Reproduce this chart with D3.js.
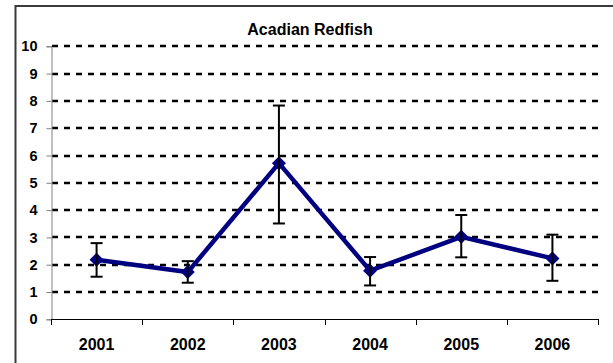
<!DOCTYPE html>
<html><head><meta charset="utf-8">
<script src="https://cdn.jsdelivr.net/npm/d3@7"></script>
<style>html,body{margin:0;padding:0;background:#fff;overflow:hidden}svg{display:block}</style>
</head><body>
<svg id="c" width="613" height="363"></svg>
<script>
const title = "Acadian Redfish";
const years = ["2001","2002","2003","2004","2005","2006"];
const means = [2.18, 1.73, 5.72, 1.78, 3.02, 2.23];
const upper = [2.79, 2.13, 7.83, 2.28, 3.82, 3.10];
const lower = [1.56, 1.34, 3.51, 1.24, 2.27, 1.41];
const yTicks = [0,1,2,3,4,5,6,7,8,9,10];

const svg = d3.select("#c");
const font = "'Liberation Sans', Arial, sans-serif";
const L = 51, R = 598, T = 46.3, B = 319.3;

// outer frame (cropped)
svg.append("rect").attr("x",15.5).attr("y",6).attr("width",700).attr("height",500)
  .attr("fill","#fff").attr("stroke","#3a3a3a").attr("stroke-width",2);

const x = d3.scaleBand().domain(years).range([L,R]).padding(0);
const y = d3.scaleLinear().domain([0,10]).range([B,T]);

// gridlines
svg.append("g").selectAll("line").data(yTicks.filter(d=>d>0)).join("line")
  .attr("x1",L+1).attr("x2",R).attr("y1",d=>Math.round(y(d))).attr("y2",d=>Math.round(y(d)))
  .attr("stroke","#000").attr("stroke-width",2.4).attr("stroke-dasharray","6,6");

// y axis
const ya = svg.append("g").attr("transform",`translate(${L+0.5},0)`)
  .call(d3.axisLeft(y).tickValues(yTicks).tickSize(5).tickPadding(9).tickFormat(d3.format("d")));
ya.selectAll("path,line").attr("stroke","#808080").attr("stroke-width",1);
ya.selectAll("text").attr("font-family",font).attr("font-weight","bold").attr("font-size","14.5px").attr("fill","#000");

// x axis
const xa = svg.append("g").attr("transform",`translate(0,${Math.round(B)})`)
  .call(d3.axisBottom(x).tickSize(0).tickPadding(20));
xa.select("path").attr("stroke","#000").attr("stroke-width",1).attr("d",`M${L},0.5H${R}`);
xa.selectAll("text").attr("font-family",font).attr("font-weight","bold").attr("font-size","16px").attr("fill","#000");
// boundary ticks
const bounds = years.map(d=>x(d)).concat([R]);
svg.append("g").selectAll("line").data(bounds).join("line")
  .attr("x1",d=>Math.round(d)+0.5).attr("x2",d=>Math.round(d)+0.5)
  .attr("y1",Math.round(B)).attr("y2",Math.round(B)+6).attr("stroke","#000").attr("stroke-width",1);

const cx = d => x(d) + x.bandwidth()/2;
const pts = years.map((d,i)=>({yr:d,m:means[i],u:upper[i],l:lower[i]}));

// line
svg.append("path").datum(pts)
  .attr("d", d3.line().x(d=>cx(d.yr)).y(d=>y(d.m)))
  .attr("fill","none").attr("stroke","#000080").attr("stroke-width",4.5).attr("stroke-linejoin","miter");

// markers
const r = 7;
svg.append("g").selectAll("path").data(pts).join("path")
  .attr("d", d=>`M${cx(d.yr)},${y(d.m)-r}L${cx(d.yr)+r},${y(d.m)}L${cx(d.yr)},${y(d.m)+r}L${cx(d.yr)-r},${y(d.m)}Z`)
  .attr("fill","#000080");

// error bars
const eb = svg.append("g").attr("stroke","#000").attr("stroke-width",2);
eb.selectAll("line.v").data(pts).join("line").attr("class","v")
  .attr("x1",d=>cx(d.yr)).attr("x2",d=>cx(d.yr)).attr("y1",d=>y(d.u)).attr("y2",d=>y(d.l));
eb.selectAll("line.u").data(pts).join("line").attr("class","u")
  .attr("x1",d=>cx(d.yr)-6).attr("x2",d=>cx(d.yr)+6).attr("y1",d=>y(d.u)).attr("y2",d=>y(d.u));
eb.selectAll("line.l").data(pts).join("line").attr("class","l")
  .attr("x1",d=>cx(d.yr)-6).attr("x2",d=>cx(d.yr)+6).attr("y1",d=>y(d.l)).attr("y2",d=>y(d.l));

// title
svg.append("text").attr("x",310).attr("y",35).attr("text-anchor","middle")
  .attr("font-family",font).attr("font-weight","bold").attr("font-size","16px").text(title);
</script>
</body></html>
